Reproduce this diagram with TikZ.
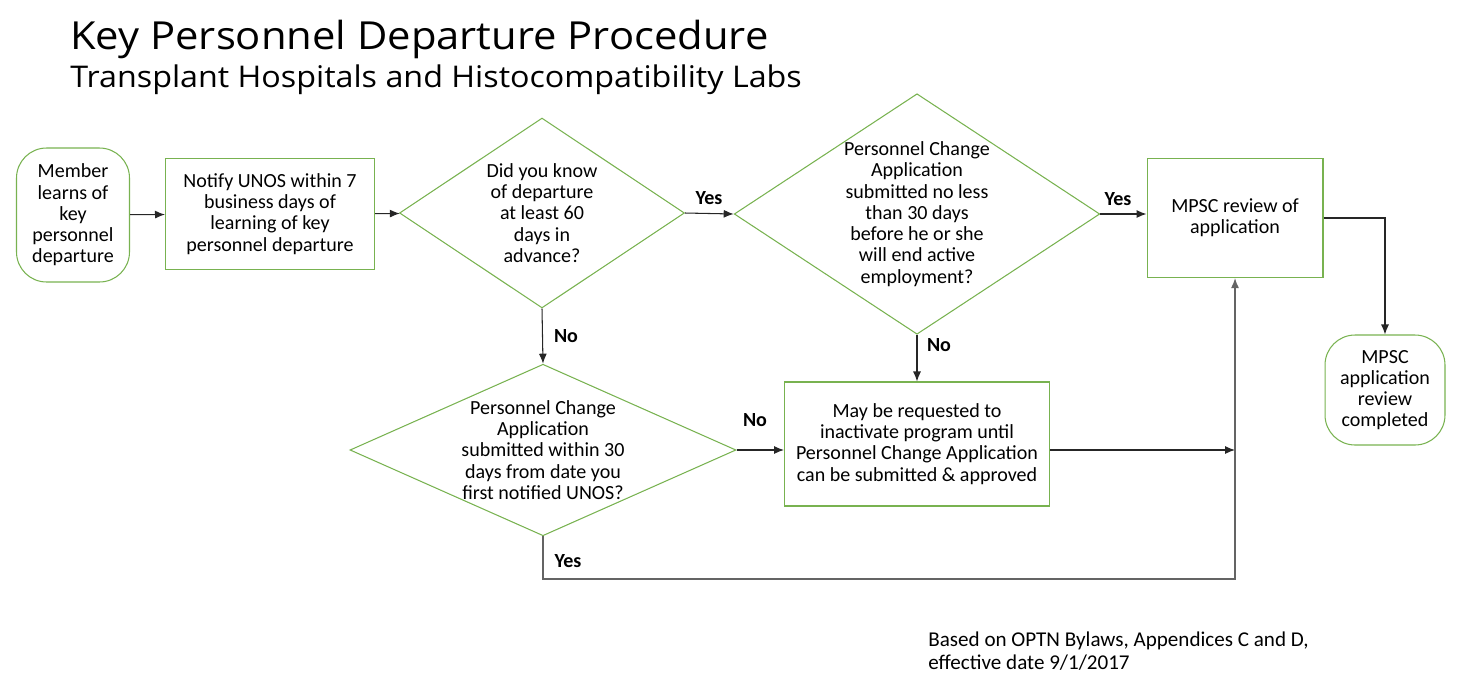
\documentclass[tikz,border=0pt]{standalone}
\usepackage{fontspec}
\setmainfont{Carlito}
\newfontfamily\titlefont[FakeStretch=1.08]{Open Sans}
\usetikzlibrary{shapes.geometric,arrows.meta}
\definecolor{flowgreen}{RGB}{120,178,80}
\definecolor{linegray}{RGB}{100,100,100}
\newcommand{\bodysize}{\fontsize{11.4}{12.1}\selectfont}

\begin{document}
\begin{tikzpicture}[x=0.02cm,y=-0.02cm,>={Latex[length=2mm,width=1.6mm]},
  box/.style={draw=flowgreen, line width=0.6pt, rectangle, align=center, font=\bodysize, inner sep=0pt},
  term/.style={box, rounded corners=0.6cm},
  decide/.style={draw=flowgreen, line width=0.6pt, diamond, align=center, font=\bodysize, inner sep=0pt},
  lbl/.style={font=\bodysize\bfseries},
  conn/.style={->, line width=0.6pt, black!85}]
\useasboundingbox (0,0) rectangle (1464,694);

% titles
\node[anchor=base west, inner sep=0pt, font=\titlefont\fontsize{22}{26}\selectfont] (title) at (70,49) {Key Personnel Departure Procedure};
\node[anchor=base west, inner sep=0pt, font=\titlefont\fontsize{17}{20}\selectfont] (subtitle) at (70,87) {Transplant Hospitals and Histocompatibility Labs};

% top row
\node[term, minimum width=2.26cm, minimum height=2.68cm] (start) at (73,215) {Member\\learns of\\key\\personnel\\departure};
\node[box, minimum width=4.18cm, minimum height=2.22cm] (notify) at (270,214) {Notify UNOS within 7\\business days of\\learning of key\\personnel departure};
\node[decide, minimum width=5.7cm, minimum height=3.8cm, aspect=1.5] (know) at (542,213) {Did you know\\of departure\\at least 60\\days in\\advance?};
\node[decide, minimum width=7.22cm, minimum height=4.74cm, aspect=1.52] (early) at (917,214) {Personnel Change\\Application\\submitted no less\\than 30 days\\before he or she\\will end active\\employment?};
\node[box, minimum width=3.52cm, minimum height=2.38cm] (mpsc) at (1235,218) {MPSC review of\\application};
\node[term, minimum width=2.4cm, minimum height=2.2cm] (done) at (1385,390) {MPSC\\application\\review\\completed};

% lower row
\node[decide, minimum width=7.66cm, minimum height=3.4cm, aspect=2.25] (within) at (543,450) {Personnel Change\\Application\\submitted within 30\\days from date you\\first notified UNOS?};
\node[box, minimum width=5.3cm, minimum height=2.48cm] (inact) at (917,444) {May be requested to\\inactivate program until\\Personnel Change Application\\can be submitted \& approved};

\node[anchor=base west, inner sep=0pt, font=\fontsize{12}{13}\selectfont] (note) at (928,646) {Based on OPTN Bylaws, Appendices C and D,};
\node[anchor=base west, inner sep=0pt, font=\fontsize{12}{13}\selectfont] (note2) at (928,669) {effective date 9/1/2017};

\coordinate (low) at (543,579);

\draw[conn] (start) -- (notify);
\draw[conn] (notify) -- (know);
\draw[conn] (know.east) -- (early.west);
\draw[conn] (early.east) -- (mpsc.west |- early.east);
\draw[conn] (mpsc.east) -| (done.north);
\draw[conn] (know.south) -- (within.north);
\draw[conn] (early.south) -- (inact.north);
\draw[conn] (within.east) -- (inact.west |- within.east);
\draw[conn] (inact.east |- within.east) -- (mpsc.south |- within.east);
\draw[conn, linegray, line width=0.8pt] (within.south) -- (low) -| (mpsc.south);

\node[lbl] (y1) at (709,198) {Yes};
\node[lbl] (y2) at (1118,199) {Yes};
\node[lbl] (n1) at (566,336) {No};
\node[lbl] (n2) at (939,345) {No};
\node[lbl] (n3) at (755,420) {No};
\node[lbl] (y3) at (568,561) {Yes};
\end{tikzpicture}
\end{document}
